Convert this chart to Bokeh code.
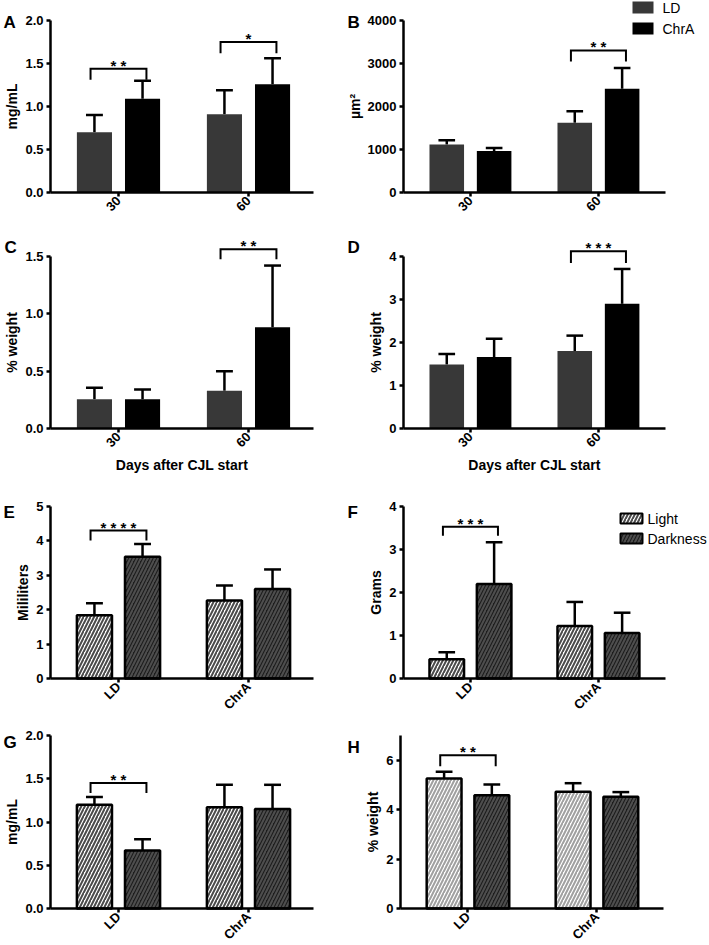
import math
from bokeh.plotting import figure
from bokeh.layouts import column, row
from bokeh.models import (Range1d, FixedTicker, Label, ColumnDataSource, NumeralTickFormatter)
from bokeh.embed import file_html
from bokeh.resources import INLINE
from bokeh.core.properties import value

# ---------------- data ----------------
days = ["30", "60"]
strains = ["LD", "ChrA"]
lighting = ["Light", "Darkness"]

# A: mg/mL
A_LD = [0.70, 0.91]
A_LD_SEM = [0.20, 0.28]
A_CHRA = [1.09, 1.26]
A_CHRA_SEM = [0.21, 0.30]
A_SIG = [(0, 1.44, 1.31, "* *"), (1, 1.75, 1.62, "*")]

# B: µm²
B_LD = [1114, 1625]
B_LD_SEM = [100, 263]
B_CHRA = [967, 2414]
B_CHRA_SEM = [70, 480]
B_SIG = [(1, 3304, 3048, "* *")]

# C: % weight
C_LD = [0.256, 0.329]
C_LD_SEM = [0.10, 0.17]
C_CHRA = [0.256, 0.883]
C_CHRA_SEM = [0.085, 0.538]
C_SIG = [(1, 1.564, 1.477, "* *")]

# D: % weight
D_LD = [1.49, 1.80]
D_LD_SEM = [0.24, 0.36]
D_CHRA = [1.66, 2.90]
D_CHRA_SEM = [0.43, 0.81]
D_SIG = [(1, 4.12, 3.85, "* * *")]

# E: Mililiters
E_LIGHT = [1.84, 2.27]
E_LIGHT_SEM = [0.35, 0.43]
E_DARK = [3.54, 2.60]
E_DARK_SEM = [0.37, 0.57]
E_SIG = [(0, 4.30, 4.01, "* * * *")]

# F: Grams
F_LIGHT = [0.45, 1.22]
F_LIGHT_SEM = [0.16, 0.56]
F_DARK = [2.20, 1.06]
F_DARK_SEM = [0.97, 0.47]
F_SIG = [(0, 3.53, 3.32, "* * *")]

# G: mg/mL
G_LIGHT = [1.20, 1.17]
G_LIGHT_SEM = [0.09, 0.26]
G_DARK = [0.67, 1.15]
G_DARK_SEM = [0.13, 0.28]
G_SIG = [(0, 1.45, 1.335, "* *")]

# H: % weight
H_LIGHT = [5.26, 4.72]
H_LIGHT_SEM = [0.27, 0.35]
H_DARK = [4.58, 4.52]
H_DARK_SEM = [0.44, 0.19]
H_SIG = [(0, 6.20, 5.76, "* *")]

# ---------------- geometry / style ----------------
FONT = "Liberation Sans"
X0 = -0.523      # data x where the y axis sits
OFF = 0.185
BAR_W = 0.27
CAP_W = 0.13
BR_HALF = 0.215

# (fig_top, axis_top, axis_bottom, fig_bottom) in page pixels
ROWS = [(0, 20, 192, 232), (232, 256, 428, 484), (484, 506, 678, 718), (718, 735, 908, 945)]
# (fig_left, axis_left, axis_right, fig_right, px per unit)
LEFT = (0, 50, 313, 346, 130.0)
RIGHT = (346, 403, 665, 709, 128.0)
RIGHT_H = (346, 400, 663, 709, 129.0)

SOLID = [dict(fill_color="#383838", line_color=None),
         dict(fill_color="#000000", line_color=None)]


def hatched(light_hatch):
    return [dict(fill_color="white", line_color="black", line_width=2.5,
                 hatch_pattern="/", hatch_color=light_hatch, hatch_scale=7, hatch_weight=2),
            dict(fill_color="#1c1c1c", line_color="black", line_width=2.5,
                 hatch_pattern="/", hatch_color="#4e4e4e", hatch_scale=7, hatch_weight=2)]


def panel(cg, rg, top_val, ticks, fmt, ylabel, xlabels, series, styles, sig, letter,
          letter_px, names=None, xlabel=None, legend=None):
    fig_left, axis_left, axis_right, fig_right, ppu = cg
    fig_top, axis_top, axis_bottom, fig_bottom = rg
    vpp = top_val / (axis_bottom - axis_top)  # value per pixel

    def px2x(px):
        return X0 + (px - axis_left) / ppu

    def py2y(py):
        return (axis_bottom - py) * vpp

    W = fig_right - fig_left
    H = fig_bottom - fig_top
    p = figure(frame_width=W, frame_height=H,
               min_border_left=0, min_border_right=0, min_border_top=0, min_border_bottom=0,
               x_range=Range1d(px2x(fig_left), px2x(fig_right)),
               y_range=Range1d(py2y(fig_bottom), py2y(fig_top)),
               output_backend="svg", toolbar_location=None, tools="")
    p.xgrid.visible = False
    p.ygrid.visible = False
    p.outline_line_color = None
    p.background_fill_color = "white"
    p.border_fill_color = "white"

    for ax in (p.xaxis[0], p.yaxis[0]):
        ax.axis_line_width = 2.5
        ax.axis_line_color = "black"
        ax.major_tick_line_width = 2.5
        ax.major_tick_in = 0
        ax.major_tick_out = 4
        ax.minor_tick_line_color = None
        ax.major_label_text_font = FONT
        ax.major_label_text_font_style = "bold"
        ax.major_label_text_font_size = "13px"
        ax.major_label_text_color = "black"
        ax.axis_label_text_font = FONT
        ax.axis_label_text_font_style = "bold"
        ax.axis_label_text_color = "black"

    ya = p.yaxis[0]
    ya.fixed_location = X0
    ya.bounds = (0, top_val)
    ya.ticker = FixedTicker(ticks=ticks)
    ya.formatter = NumeralTickFormatter(format=fmt)
    ya.axis_label = ylabel
    ya.axis_label_text_font_size = "14px"
    ya.major_label_standoff = 3
    ya.axis_label_standoff = 2

    xa = p.xaxis[0]
    xa.fixed_location = 0
    xa.bounds = (X0, px2x(axis_right))
    xa.ticker = FixedTicker(ticks=[0, 1])
    xa.major_label_overrides = {0: xlabels[0], 1: xlabels[1]}
    xa.major_label_orientation = math.pi / 4
    xa.major_label_standoff = 2
    if xlabel:
        xa.axis_label = xlabel
        xa.axis_label_text_font_size = "14px"
        xa.axis_label_standoff = 3

    for (mean, sem), st, off in zip(series, styles, (-OFF, OFF)):
        xs = [i + off for i in range(len(mean))]
        tops = [m + s for m, s in zip(mean, sem)]
        src = ColumnDataSource(dict(x=xs, top=mean, etop=tops,
                                    cl=[x - CAP_W / 2 for x in xs], cr=[x + CAP_W / 2 for x in xs]))
        p.segment(x0="x", y0="top", x1="x", y1="etop", source=src, line_width=2.5, line_color="black")
        p.segment(x0="cl", y0="etop", x1="cr", y1="etop", source=src, line_width=2.5, line_color="black")
        p.vbar(x="x", top="top", bottom=0, width=BAR_W, source=src, **st)

    for gi, yb, yd, stars in sig:
        xl, xr = gi - BR_HALF, gi + BR_HALF
        p.line(x=[xl, xl, xr, xr], y=[yd, yb, yb, yd], line_width=2, line_color="black",
               line_join="miter")
        p.text(x=[gi], y=[yb + 3.5 * vpp], text=[stars], text_align="center", text_baseline="middle",
               text_font=value(FONT), text_font_style="bold",
               text_font_size="15px", text_color="black")

    lx, lyb = letter_px
    p.add_layout(Label(x=px2x(lx), y=py2y(lyb), text=letter, text_font=FONT, text_font_style="bold",
                       text_font_size="17px", text_color="black", text_align="left",
                       text_baseline="alphabetic"))

    if legend is not None:
        bx0, bx1, boxes, tx, lw = legend
        for (by0, by1), st, name in zip(boxes, styles, names):
            s = dict(st)
            if s.get("line_color") is not None:
                s["line_width"] = lw
            p.quad(left=[px2x(bx0)], right=[px2x(bx1)], top=[py2y(by0)], bottom=[py2y(by1)], **s)
            p.text(x=[px2x(tx)], y=[py2y((by0 + by1) / 2)], text=[name], text_align="left",
                   text_baseline="middle", text_font=value(FONT), text_font_size="14px",
                   text_color="black")
    return p


pA = panel(LEFT, ROWS[0], 2.0, [0, 0.5, 1.0, 1.5, 2.0], "0.0", "mg/mL", days,
           [(A_LD, A_LD_SEM), (A_CHRA, A_CHRA_SEM)], SOLID, A_SIG, "A", (3, 22))
pB = panel(RIGHT, ROWS[0], 4000, [0, 1000, 2000, 3000, 4000], "0", "µm²", days,
           [(B_LD, B_LD_SEM), (B_CHRA, B_CHRA_SEM)], SOLID, B_SIG, "B", (347, 22),
           names=strains, legend=(632, 653, [(1, 13), (22, 34)], 662, 0))
pC = panel(LEFT, ROWS[1], 1.5, [0, 0.5, 1.0, 1.5], "0.0", "% weight", days,
           [(C_LD, C_LD_SEM), (C_CHRA, C_CHRA_SEM)], SOLID, C_SIG, "C", (4, 247),
           xlabel="Days after CJL start")
pD = panel(RIGHT, ROWS[1], 4, [0, 1, 2, 3, 4], "0", "% weight", days,
           [(D_LD, D_LD_SEM), (D_CHRA, D_CHRA_SEM)], SOLID, D_SIG, "D", (347, 247),
           xlabel="Days after CJL start")
pE = panel(LEFT, ROWS[2], 5, [0, 1, 2, 3, 4, 5], "0", "Mililiters", strains,
           [(E_LIGHT, E_LIGHT_SEM), (E_DARK, E_DARK_SEM)], hatched("#4a4a4a"), E_SIG, "E", (3, 512))
pF = panel(RIGHT, ROWS[2], 4, [0, 1, 2, 3, 4], "0", "Grams", strains,
           [(F_LIGHT, F_LIGHT_SEM), (F_DARK, F_DARK_SEM)], hatched("#4a4a4a"), F_SIG, "F", (347, 512),
           names=lighting, legend=(620, 642, [(513, 523), (533, 543)], 647, 2))
pG = panel(LEFT, ROWS[3], 2.0, [0, 0.5, 1.0, 1.5, 2.0], "0.0", "mg/mL", strains,
           [(G_LIGHT, G_LIGHT_SEM), (G_DARK, G_DARK_SEM)], hatched("#4a4a4a"), G_SIG, "G", (3, 742))
pH = panel(RIGHT_H, ROWS[3], 7, [0, 2, 4, 6], "0", "% weight", strains,
           [(H_LIGHT, H_LIGHT_SEM), (H_DARK, H_DARK_SEM)], hatched("#a0a0a0"), H_SIG, "H", (347, 747))

layout = column(row(pA, pB), row(pC, pD), row(pE, pF), row(pG, pH))
open("out.html", "w").write(file_html(layout, INLINE))
